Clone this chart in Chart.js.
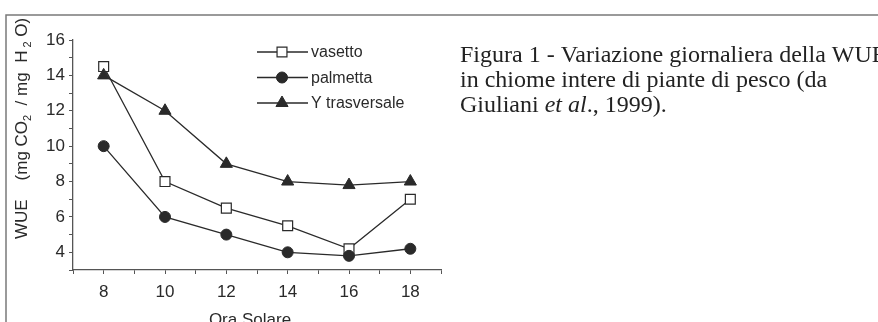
<!DOCTYPE html>
<html>
<head>
<meta charset="utf-8">
<title>WUE giornaliera</title>
<script src="https://cdn.jsdelivr.net/npm/chart.js@4.4.0/dist/chart.umd.min.js"></script>
<style>
    html, body { margin: 0; padding: 0; background: #fff; }
    #wrap { position: relative; width: 878px; height: 322px; }
</style>
</head>
<body>
<div id="wrap"><canvas id="wueChart"></canvas></div>
<script>
// Values
const hours = [8, 10, 12, 14, 16, 18];
const vasetto = [14.5, 8, 6.5, 5.5, 4.2, 7];
const palmetta = [10, 6, 5, 4, 3.8, 4.2];
const yTrasversale = [14, 12, 9, 8, 7.8, 8];
const seriesNames = ['vasetto', 'palmetta', 'Y trasversale'];
const yTicks = [4, 6, 8, 10, 12, 14, 16];
const xTicks = [8, 10, 12, 14, 16, 18];
const xTitle = 'Ora Solare';

const INK = '#2a2a2a';
const AXIS = '#555';
const SANS = '"Liberation Sans", Arial, sans-serif';
const SERIF = '"Liberation Serif", "Times New Roman", serif';

function toPoints(values) {
    return hours.map((h, i) => ({ x: h, y: values[i] }));
}

// Frame, axis titles, legend and caption
const decorations = {
    id: 'decorations',
    afterDraw(chart) {
        const ctx = chart.ctx;
        ctx.save();

        // frame (top and left edges only)
        ctx.strokeStyle = '#7a7a7a';
        ctx.lineWidth = 1.5;
        ctx.beginPath();
        ctx.moveTo(6, 322);
        ctx.lineTo(6, 15);
        ctx.lineTo(878, 15);
        ctx.stroke();

        // y title with subscripts
        ctx.fillStyle = INK;
        ctx.translate(27, 239);
        ctx.rotate(-Math.PI / 2);
        ctx.textBaseline = 'alphabetic';
        let x = 0;
        const parts = [
            ['WUE', 17, 0], ['    ', 17, 0], ['(mg CO', 17, 0], ['2', 11, 4],
            ['  / mg  H', 17, 0], [' 2', 11, 4], [' O)', 17, 0]
        ];
        parts.forEach(([txt, size, dy]) => {
            ctx.font = size + 'px ' + SANS;
            ctx.fillText(txt, x, dy);
            x += ctx.measureText(txt).width;
        });
        ctx.setTransform(1, 0, 0, 1, 0, 0);

        // x title
        const area = chart.chartArea;
        ctx.font = '17px ' + SANS;
        ctx.textAlign = 'center';
        ctx.textBaseline = 'top';
        ctx.fillText(xTitle, (area.left + area.right) / 2 - 7, 312);

        // legend: line - marker - line, then label
        ctx.textAlign = 'left';
        ctx.textBaseline = 'middle';
        ctx.font = '16px ' + SANS;
        chart.data.datasets.forEach((ds, i) => {
            const y = 52 + i * 25.5;
            ctx.strokeStyle = INK;
            ctx.lineWidth = 1.3;
            ctx.beginPath();
            ctx.moveTo(257, y);
            ctx.lineTo(308, y);
            ctx.stroke();
            drawMarker(ctx, ds, 282, y);
            ctx.fillStyle = INK;
            ctx.fillText(ds.label, 311, y + 1);
        });

        // caption
        ctx.fillStyle = '#222';
        ctx.textBaseline = 'alphabetic';
        ctx.font = '24px ' + SERIF;
        ctx.fillText('Figura 1 - Variazione giornaliera della WUE', 460, 62);
        ctx.fillText('in chiome intere di piante di pesco (da', 460, 87);
        let cx = 460;
        [['Giuliani ', ''], ['et al', 'italic '], ['., 1999).', '']].forEach(([txt, style]) => {
            ctx.font = style + '24px ' + SERIF;
            ctx.fillText(txt, cx, 112);
            cx += ctx.measureText(txt).width;
        });

        ctx.restore();
    }
};

function drawMarker(ctx, ds, x, y) {
    const r = ds.pointRadius;
    ctx.save();
    ctx.fillStyle = ds.pointBackgroundColor;
    ctx.strokeStyle = ds.pointBorderColor;
    ctx.lineWidth = ds.pointBorderWidth;
    ctx.beginPath();
    if (ds.pointStyle === 'rect') {
        const s = r * Math.SQRT1_2;
        ctx.rect(x - s, y - s, 2 * s, 2 * s);
    } else if (ds.pointStyle === 'triangle') {
        ctx.moveTo(x, y - r);
        ctx.lineTo(x + r * Math.sin(Math.PI * 2 / 3), y - r * Math.cos(Math.PI * 2 / 3));
        ctx.lineTo(x + r * Math.sin(Math.PI * 4 / 3), y - r * Math.cos(Math.PI * 4 / 3));
        ctx.closePath();
    } else {
        ctx.arc(x, y, r, 0, Math.PI * 2);
    }
    ctx.fill();
    ctx.stroke();
    ctx.restore();
}

const ctx = document.getElementById('wueChart');
new Chart(ctx, {
    type: 'line',
    data: {
        datasets: [{
            label: seriesNames[0],
            data: toPoints(vasetto),
            borderColor: INK,
            borderWidth: 1.3,
            pointStyle: 'rect',
            pointRadius: 7,
            pointBackgroundColor: '#fff',
            pointBorderColor: INK,
            pointBorderWidth: 1.2,
            order: 3
        }, {
            label: seriesNames[1],
            data: toPoints(palmetta),
            borderColor: INK,
            borderWidth: 1.3,
            pointStyle: 'circle',
            pointRadius: 5.5,
            pointBackgroundColor: INK,
            pointBorderColor: INK,
            pointBorderWidth: 1,
            order: 2
        }, {
            label: seriesNames[2],
            data: toPoints(yTrasversale),
            borderColor: INK,
            borderWidth: 1.3,
            pointStyle: 'triangle',
            pointRadius: 7,
            pointBackgroundColor: INK,
            pointBorderColor: INK,
            pointBorderWidth: 1,
            order: 1
        }]
    },
    options: {
        responsive: true,
        maintainAspectRatio: false,
        animation: false,
        events: [],
        layout: {
            padding: { top: 40, right: 437, left: 0, bottom: 0 }
        },
        plugins: {
            legend: { display: false },
            tooltip: { enabled: false }
        },
        scales: {
            x: {
                type: 'linear',
                min: 7,
                max: 19,
                afterFit: scale => { scale.height = 52; },
                grid: { drawOnChartArea: false, drawTicks: true, tickLength: 4, color: AXIS },
                border: { display: true, color: AXIS, width: 1.3 },
                ticks: {
                    stepSize: 1,
                    padding: 8,
                    color: INK,
                    font: { family: SANS, size: 17 },
                    maxRotation: 0,
                    autoSkip: false,
                    callback: v => xTicks.includes(v) ? v : ''
                }
            },
            y: {
                min: 3,
                max: 16,
                afterFit: scale => { scale.width = 73; },
                grid: { drawOnChartArea: false, drawTicks: true, tickLength: 4, color: AXIS },
                border: { display: true, color: AXIS, width: 1.3 },
                ticks: {
                    stepSize: 1,
                    padding: 4,
                    color: INK,
                    font: { family: SANS, size: 17 },
                    autoSkip: false,
                    callback: v => yTicks.includes(v) ? v : ''
                }
            }
        }
    },
    plugins: [decorations]
});
</script>
</body>
</html>
